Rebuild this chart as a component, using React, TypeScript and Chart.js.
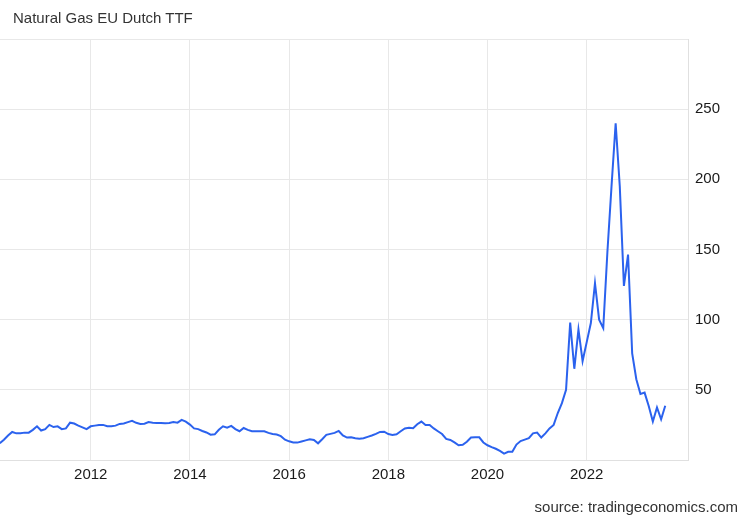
import React, { useEffect, useRef } from "react";
import { Chart, registerables } from "chart.js";

Chart.register(...registerables);

// Monthly values (EUR/MWh), 2010 starts in March, 2023 ends in August
const years = [2010, 2011, 2012, 2013, 2014, 2015, 2016, 2017, 2018, 2019, 2020, 2021, 2022, 2023];
const startMonths = [3, 1, 1, 1, 1, 1, 1, 1, 1, 1, 1, 1, 1, 1];
const v2010 = [12, 14.5, 17.5, 20, 19, 19, 19.5, 19.5, 21.5, 24];
const v2011 = [21, 22, 25, 23.5, 24, 22, 22.5, 26.6, 26, 24.5, 23.3, 22];
const v2012 = [24, 24.5, 25, 25, 24, 24, 24.5, 25.7, 26, 27, 27.9, 26.5];
const v2013 = [25.7, 25.9, 27, 26.6, 26.4, 26.3, 26.2, 26.3, 27, 26.6, 28.6, 27.3];
const v2014 = [25.2, 22.5, 22, 20.7, 19.6, 18, 18.3, 21.5, 24, 23, 24.3, 22];
const v2015 = [20.5, 22.8, 21.5, 20.5, 20.5, 20.5, 20.5, 19.3, 18.5, 18.2, 17, 14.5];
const v2016 = [13.3, 12.5, 12.4, 13.2, 14, 14.8, 14.3, 11.9, 14.8, 17.9, 18.6, 19.3];
const v2017 = [20.7, 17.5, 16, 16.2, 15.5, 15.2, 15.5, 16.5, 17.5, 18.6, 20, 20.2];
const v2018 = [18.5, 17.9, 18.3, 20.5, 22.5, 23, 22.6, 25.5, 27.4, 25, 25, 22.5];
const v2019 = [20.5, 18.5, 15, 14.3, 12.5, 10.5, 10.8, 13, 16, 16.2, 16.2, 12.5];
const v2020 = [10.5, 9.2, 8, 6.5, 4.5, 5.8, 5.8, 11, 13.5, 14.5, 15.5, 19];
const v2021 = [19.5, 16, 19, 22.5, 25, 33.5, 40.5, 50, 98, 65, 93, 70.5];
const v2022 = [84, 97.6, 126, 100, 94, 148, 195, 240, 195, 124, 146.4, 76];
const v2023 = [57.6, 47, 48, 38.5, 27.4, 37.4, 29, 38.6];
const yearValues = [v2010, v2011, v2012, v2013, v2014, v2015, v2016, v2017, v2018, v2019, v2020, v2021, v2022, v2023];

const xTicks = [2012, 2014, 2016, 2018, 2020, 2022];
const yTicks = [50, 100, 150, 200, 250];

const FONT = "'Liberation Sans', Arial, Helvetica, sans-serif";

export default function App() {
  const ref = useRef<HTMLCanvasElement | null>(null);

  useEffect(() => {
    document.body.style.margin = "0";
    const points: { x: number; y: number }[] = [];
    years.forEach((yr, i) => {
      yearValues[i].forEach((v, j) => {
        points.push({ x: yr + (startMonths[i] - 1 + j) / 12, y: v });
      });
    });
    const chart = new Chart(ref.current as HTMLCanvasElement, {
      type: "line",
      data: {
        datasets: [
          {
            data: points,
            borderColor: "#2b62ee",
            borderWidth: 2,
            pointRadius: 0,
            tension: 0,
            fill: false,
          },
        ],
      },
      options: {
        animation: false,
        responsive: false,
        devicePixelRatio: 1,
        layout: { padding: { top: 39, left: 0, right: 0, bottom: 0 } },
        plugins: { legend: { display: false }, tooltip: { enabled: false }, title: { display: false } },
        scales: {
          x: {
            type: "linear",
            min: 2010.171,
            max: 2024.042,
            afterFit: (s: any) => {
              s.height = 60;
              s.paddingLeft = 0;
              s.paddingRight = 0;
            },
            afterBuildTicks: (s: any) => {
              s.ticks = xTicks.map((v) => ({ value: v }));
            },
            ticks: {
              includeBounds: false,
              autoSkip: false,
              maxRotation: 0,
              padding: 6,
              color: "#1a1a1a",
              font: { family: FONT, size: 15 },
              callback: (v: any) => String(v),
            },
            grid: { color: "#e8e8e8", drawTicks: false },
            border: { display: true, color: "#e0e0e0" },
          },
          y: {
            position: "right",
            min: 0,
            max: 300,
            afterFit: (s: any) => {
              s.width = 62;
            },
            afterBuildTicks: (s: any) => {
              s.ticks = [0, ...yTicks, 300].map((v) => ({ value: v }));
            },
            ticks: {
              padding: 7,
              color: "#1a1a1a",
              font: { family: FONT, size: 15 },
              callback: (v: any) => (yTicks.includes(v) ? String(v) : ""),
            },
            grid: { color: "#e8e8e8", drawTicks: false },
            border: { display: true, color: "#e0e0e0" },
          },
        },
      },
    });
    return () => chart.destroy();
  }, []);

  return (
    <div style={{ position: "fixed", left: 0, top: 0, width: 750, height: 520, background: "#fff" }}>
      <canvas ref={ref} width={750} height={520} style={{ width: 750, height: 520, display: "block" }} />
      <div
        style={{
          position: "absolute",
          left: 13,
          top: 9,
          fontFamily: FONT,
          fontSize: 15,
          lineHeight: "17px",
          color: "#333",
          whiteSpace: "nowrap",
        }}
      >
        Natural Gas EU Dutch TTF
      </div>
      <div
        style={{
          position: "absolute",
          right: 12,
          top: 498,
          fontFamily: FONT,
          fontSize: 15,
          lineHeight: "17px",
          color: "#333",
          whiteSpace: "nowrap",
        }}
      >
        source: tradingeconomics.com
      </div>
    </div>
  );
}
